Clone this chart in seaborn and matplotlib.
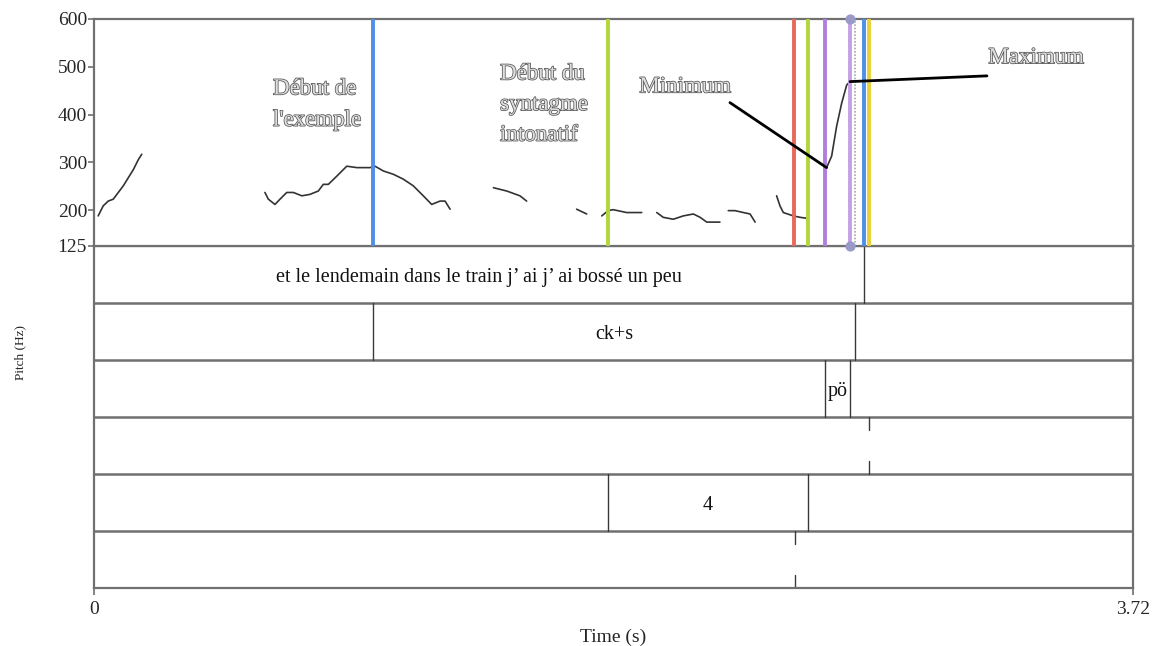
import numpy as np
import pandas as pd
import matplotlib
matplotlib.use("Agg")
import matplotlib.pyplot as plt
import matplotlib.patheffects as pe
import seaborn as sns

sns.set_theme(style="white")
plt.rcParams['font.family'] = ['Liberation Serif', 'DejaVu Serif']

# ---- axis ranges ----
T_END = 3.72
PITCH_MIN, PITCH_MAX = 125, 600
pitch_ticks = [125, 200, 300, 400, 500, 600]

# ---- F0 contour, one pair of lists per voiced stretch ----
seg1_t = [0.015, 0.033, 0.051, 0.069, 0.087, 0.105, 0.123, 0.141, 0.159, 0.171]
seg1_hz = [188, 209, 219, 223, 237, 251, 268, 285, 306, 317]
seg2_t = [0.612, 0.624, 0.648, 0.666, 0.690, 0.714, 0.744, 0.773, 0.803, 0.821,
          0.839, 0.869, 0.905, 0.941, 0.988, 1.006, 1.036, 1.072, 1.107, 1.143,
          1.179, 1.209, 1.239, 1.257, 1.275]
seg2_hz = [237, 223, 212, 223, 237, 237, 230, 233, 240, 254,
           254, 271, 292, 289, 289, 292, 282, 275, 265, 251,
           230, 212, 219, 219, 202]
seg3_t = [1.430, 1.478, 1.525, 1.549]
seg3_hz = [247, 240, 230, 219]
seg4_t = [1.728, 1.764]
seg4_hz = [202, 192]
seg5_t = [1.818, 1.841, 1.859, 1.907, 1.961]
seg5_hz = [188, 199, 201, 195, 195]
seg6_t = [2.015, 2.038, 2.074, 2.110, 2.146, 2.170, 2.194, 2.241]
seg6_hz = [195, 185, 181, 188, 192, 185, 175, 175]
seg7_t = [2.271, 2.295, 2.325, 2.349, 2.367]
seg7_hz = [199, 199, 195, 192, 175]
seg8_t = [2.444, 2.456, 2.468, 2.504, 2.528, 2.552]
seg8_hz = [230, 209, 195, 188, 185, 183]
seg9_t = [2.623, 2.641, 2.659, 2.677, 2.695, 2.707]
seg9_hz = [289, 313, 376, 424, 462, 469]

segments = [(seg1_t, seg1_hz), (seg2_t, seg2_hz), (seg3_t, seg3_hz),
            (seg4_t, seg4_hz), (seg5_t, seg5_hz), (seg6_t, seg6_hz),
            (seg7_t, seg7_hz), (seg8_t, seg8_hz), (seg9_t, seg9_hz)]

# ---- vertical markers on the pitch panel ----
marker_times = [1.000, 1.840, 2.508, 2.556, 2.617, 2.707, 2.757, 2.775]
marker_colors = ['#4f8fe6', '#b2d53a', '#e8695a', '#b2d53a', '#b07ee0',
                 '#c4a0e6', '#4f8fe6', '#e8d23a']
selection_time = 2.725

# ---- annotation tiers ----
tier1_bounds = [2.757]
tier1_text = "et le lendemain dans le train j’ ai j’ ai bossé un peu"
tier2_bounds = [1.000, 2.725]
tier2_text = "ck+s"
tier3_bounds = [2.617, 2.707]
tier3_text = "pö"
tier4_points = [2.775]
tier5_bounds = [1.840, 2.556]
tier5_text = "4"
tier6_points = [2.510]

# ---- callouts ----
min_point = (2.623, 289)
max_point = (2.707, 469)

rows = []
for i, (ts, hs) in enumerate(segments):
    for t, h in zip(ts, hs):
        rows.append({"time": t, "hz": h, "segment": i})
df = pd.DataFrame(rows)

W, H = 1158, 646
fig = plt.figure(figsize=(W / 100, H / 100), dpi=100)

left = 94 / W
width = (1133 - 94) / W
ax_t = fig.add_axes([left, 1 - 588 / H, width, (588 - 246) / H])
ax_p = fig.add_axes([left, 1 - 246 / H, width, (246 - 19) / H])
ax_p.set_zorder(3)

frame_col = '#707070'

# pitch panel
sns.lineplot(data=df, x="time", y="hz", units="segment", estimator=None,
             color='#333333', lw=1.2, ax=ax_p, legend=False)
for t, c in zip(marker_times, marker_colors):
    ax_p.axvline(t, color=c, lw=2.8, zorder=3)
ax_p.axvline(selection_time, color='#a8a8a8', lw=1.2, ls=(0, (1, 1)), zorder=3)
ax_p.scatter([marker_times[5]] * 2, [PITCH_MIN, PITCH_MAX], s=40,
             color='#9a9ac8', zorder=5, clip_on=False)

ax_p.set_xlim(0, T_END)
ax_p.set_ylim(PITCH_MIN, PITCH_MAX)
ax_p.set_yticks(pitch_ticks)
ax_p.set_yticklabels([str(v) for v in pitch_ticks], fontsize=14)
ax_p.set_xticks([])
ax_p.set_xlabel("")
ax_p.set_ylabel("")
ax_p.tick_params(axis='y', direction='out', length=4, width=1.2,
                 color=frame_col, pad=1, left=True)
for s in ax_p.spines.values():
    s.set_color(frame_col)
    s.set_linewidth(1.6)

emboss = dict(fontsize=16.5, color='#dedede',
              path_effects=[pe.withStroke(linewidth=1.1, foreground='#555555')])
ax_p.text(0.641, 421, "Début de\nl'exemple", ha='left', va='center',
          linespacing=1.65, zorder=6, **emboss)
ax_p.text(1.454, 421, "Début du\nsyntagme\nintonatif", ha='left', va='center',
          linespacing=1.6, zorder=6, **emboss)
ax_p.text(2.116, 458, "Minimum", ha='center', va='center', zorder=6, **emboss)
ax_p.text(3.373, 519, "Maximum", ha='center', va='center', zorder=6, **emboss)
ax_p.annotate("", xy=min_point, xytext=(2.277, 425),
              arrowprops=dict(arrowstyle='-', color='black', lw=2,
                              shrinkA=0, shrinkB=0), zorder=6)
ax_p.annotate("", xy=max_point, xytext=(3.197, 481),
              arrowprops=dict(arrowstyle='-', color='black', lw=2,
                              shrinkA=0, shrinkB=0), zorder=6)

# tiers panel
n_tiers = 6
ax_t.set_xlim(0, T_END)
ax_t.set_ylim(n_tiers, 0)
for k in range(1, n_tiers):
    ax_t.axhline(k, color=frame_col, lw=1.8)
for s in ax_t.spines.values():
    s.set_color(frame_col)
    s.set_linewidth(1.6)


def draw_intervals(row, bounds, label, label_span):
    for b in bounds:
        ax_t.plot([b, b], [row, row + 1], color='#3a3a3a', lw=1.0)
    ax_t.text((label_span[0] + label_span[1]) / 2, row + 0.56, label,
              ha='center', va='center', fontsize=14.5, color='#111111')


def draw_points(row, points):
    for p in points:
        ax_t.plot([p, p], [row, row + 0.22], color='#3a3a3a', lw=1.0)
        ax_t.plot([p, p], [row + 0.78, row + 1], color='#3a3a3a', lw=1.0)


draw_intervals(0, tier1_bounds, tier1_text, (0, tier1_bounds[0]))
draw_intervals(1, tier2_bounds, tier2_text, tier2_bounds)
draw_intervals(2, tier3_bounds, tier3_text, tier3_bounds)
draw_points(3, tier4_points)
draw_intervals(4, tier5_bounds, tier5_text, tier5_bounds)
draw_points(5, tier6_points)

ax_t.set_yticks([])
ax_t.set_xticks([0, T_END])
ax_t.set_xticklabels(["0", "3.72"], fontsize=14)
ax_t.tick_params(axis='x', direction='out', length=5, width=1.2,
                 color=frame_col, pad=4, bottom=True)
ax_t.set_xlabel("Time (s)", fontsize=14, labelpad=8)
ax_t.set_ylabel("")

fig.text(20 / W, 1 - 352 / H, "Pitch (Hz)", rotation=90, ha='center',
         va='center', fontsize=9.5)

fig.savefig("out.png", dpi=100, facecolor='white')
